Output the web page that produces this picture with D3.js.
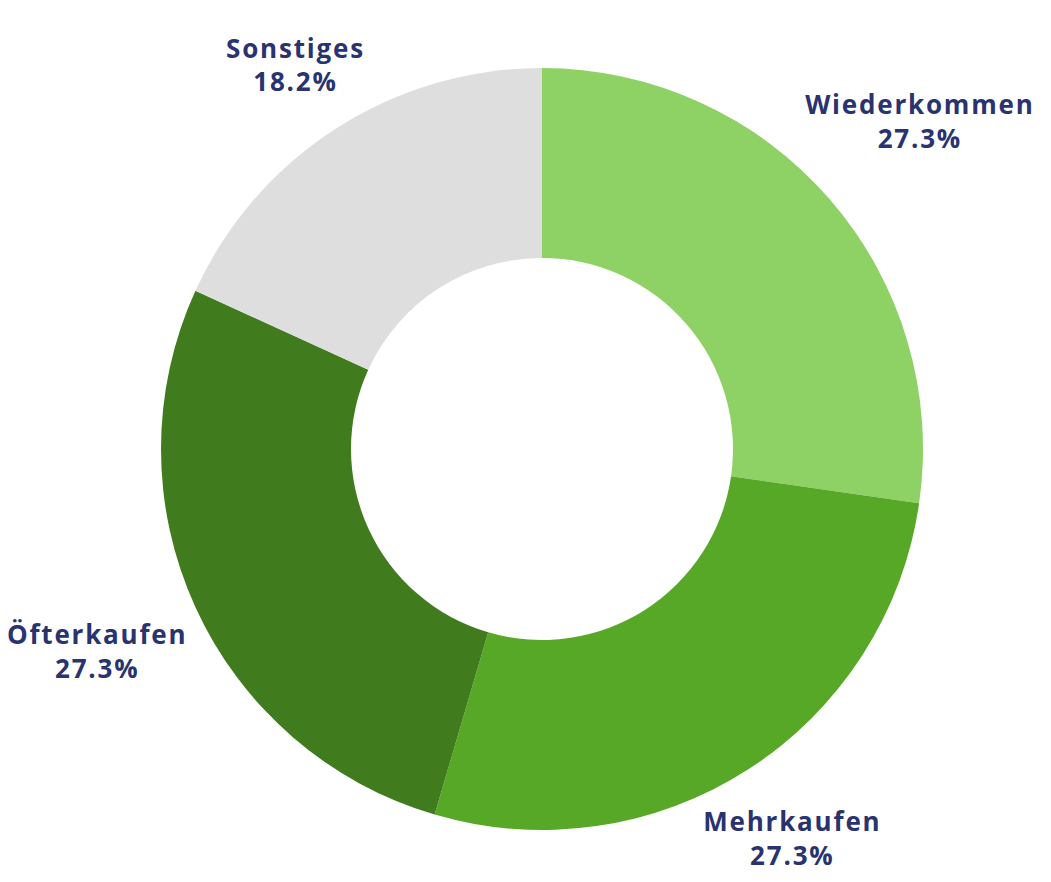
<!DOCTYPE html>
<html><head><meta charset="utf-8">
<script src="https://cdn.jsdelivr.net/npm/d3@7"></script>
<style>body{margin:0;background:#fff;}</style>
</head><body>
<svg id="chart" width="1051" height="882"></svg>
<script>
const categories = ["Wiederkommen", "Mehrkaufen", "Öfterkaufen", "Sonstiges"];
const values = [27.3, 27.3, 27.3, 18.2];
const colors = ["#8ed165", "#57a827", "#407b1e", "#dedede"];

// layout: distance of each label centre from the donut centre (px)
const labelDistance = [500, 463, 489, 456];

const cx = 542, cy = 449;
const outerR = 381, innerR = 191;

const svg = d3.select("#chart");
const g = svg.append("g").attr("transform", `translate(${cx},${cy})`);

const data = categories.map((c, i) => ({name: c, value: values[i], color: colors[i]}));
const pie = d3.pie().value(d => d.value).sort(null);
const arc = d3.arc().innerRadius(innerR).outerRadius(outerR);
const arcs = pie(data);

g.selectAll("path").data(arcs).join("path")
  .attr("d", arc).attr("fill", d => d.data.color);

const lbl = g.selectAll("text.lbl").data(arcs).join("text")
  .attr("class", "lbl")
  .attr("transform", (d, i) => {
    const a = (d.startAngle + d.endAngle) / 2;
    const r = labelDistance[i];
    return `translate(${Math.sin(a) * r},${-Math.cos(a) * r})`;
  })
  .attr("text-anchor", "middle")
  .attr("font-family", "'Open Sans', Lato, sans-serif")
  .attr("font-weight", "bold")
  .attr("font-size", 26)
  .attr("letter-spacing", 1.8)
  .attr("fill", "#283370");
lbl.append("tspan").attr("x", 0).attr("dy", "-0.3em").text(d => d.data.name);
lbl.append("tspan").attr("x", 0).attr("dy", "1.3em").text(d => d.data.value.toFixed(1) + "%");
</script>
</body></html>
